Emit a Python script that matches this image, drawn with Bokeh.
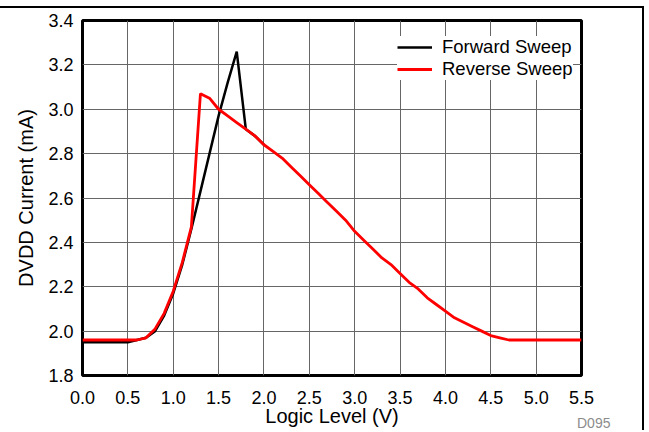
from bokeh.plotting import figure
from bokeh.models import Legend, LegendItem, FixedTicker, NumeralTickFormatter, Div
from bokeh.layouts import column
from bokeh.embed import file_html
from bokeh.resources import INLINE

# Data
fwd_x = [0.0, 0.5, 0.6, 0.7, 0.8, 0.9, 1.0, 1.1, 1.2, 1.3, 1.4, 1.5, 1.6, 1.7, 1.8, 1.9, 2.0]
fwd_y = [1.95, 1.95, 1.96, 1.97, 2.00, 2.07, 2.17, 2.30, 2.46, 2.63, 2.80, 2.97, 3.12, 3.26, 2.91, 2.88, 2.84]

rev_x = [0.0, 0.5, 0.6, 0.7, 0.8, 0.9, 1.0, 1.1, 1.2, 1.3, 1.4, 1.5, 1.6, 1.7, 1.8, 1.9,
         2.0, 2.1, 2.2, 2.3, 2.4, 2.5, 2.6, 2.7, 2.8, 2.9, 3.0, 3.1, 3.2, 3.3, 3.4, 3.5,
         3.6, 3.7, 3.8, 3.9, 4.0, 4.1, 4.2, 4.3, 4.4, 4.5, 4.6, 4.7, 5.5]
rev_y = [1.96, 1.96, 1.96, 1.97, 2.01, 2.08, 2.18, 2.31, 2.47, 3.07, 3.05, 3.00, 2.97, 2.94, 2.91, 2.88,
         2.84, 2.81, 2.78, 2.74, 2.70, 2.66, 2.62, 2.58, 2.54, 2.50, 2.45, 2.41, 2.37, 2.33, 2.30, 2.26,
         2.22, 2.19, 2.15, 2.12, 2.09, 2.06, 2.04, 2.02, 2.00, 1.98, 1.97, 1.96, 1.96]

x_ticks = [0.0, 0.5, 1.0, 1.5, 2.0, 2.5, 3.0, 3.5, 4.0, 4.5, 5.0, 5.5]
y_ticks = [1.8, 2.0, 2.2, 2.4, 2.6, 2.8, 3.0, 3.2, 3.4]
figure_id = "D095"

FONT = "Liberation Sans"

p = figure(width=644, height=424, x_range=(0, 5.5), y_range=(1.8, 3.4),
           output_backend="svg", toolbar_location=None,
           min_border_left=82, min_border_right=63, min_border_top=12, min_border_bottom=57)
p.styles = {"margin-top": "6px", "border-top": "2px solid black", "border-right": "2px solid black"}

p.outline_line_color = "black"
p.outline_line_width = 3

p.xaxis.ticker = FixedTicker(ticks=x_ticks)
p.yaxis.ticker = FixedTicker(ticks=y_ticks)
p.xaxis.formatter = NumeralTickFormatter(format="0.0")
p.yaxis.formatter = NumeralTickFormatter(format="0.0")
for ax in (p.xaxis, p.yaxis):
    ax.axis_line_color = None
    ax.major_tick_line_color = None
    ax.minor_tick_line_color = None
    ax.major_label_text_font = FONT
    ax.major_label_text_font_size = "18px"
    ax.major_label_text_color = "black"
    ax.axis_label_text_font = FONT
    ax.axis_label_text_font_size = "20px"
    ax.axis_label_text_font_style = "normal"
    ax.axis_label_text_color = "black"
p.xaxis.major_label_standoff = 9
p.yaxis.major_label_standoff = 3
p.xaxis.axis_label = "Logic Level (V)"
p.yaxis.axis_label = "DVDD Current (mA)"
p.xaxis.axis_label_standoff = -2
p.yaxis.axis_label_standoff = 8

p.xgrid.grid_line_color = "#666666"
p.ygrid.grid_line_color = "#666666"
p.xgrid.grid_line_width = 1
p.ygrid.grid_line_width = 1

r_f = p.line(fwd_x, fwd_y, line_color="black", line_width=2.5)
r_r = p.line(rev_x, rev_y, line_color="#ff0000", line_width=2.8)

legend = Legend(items=[LegendItem(label="Forward Sweep", renderers=[r_f]),
                       LegendItem(label="Reverse Sweep", renderers=[r_r])],
                location=(315, 295))
legend.border_line_color = None
legend.background_fill_color = "white"
legend.background_fill_alpha = 1.0
legend.label_text_font = FONT
legend.label_text_font_size = "18.5px"
legend.label_text_color = "black"
legend.label_text_line_height = 1.0
legend.glyph_width = 35
legend.glyph_height = 18
legend.label_height = 18
legend.spacing = -1
legend.padding = 9
legend.margin = 0
legend.label_standoff = 10
p.add_layout(legend)

note = Div(text=figure_id, width=40, height=16,
           styles={"margin-top": "-15px", "margin-left": "577px", "color": "#8c8c8c",
                   "font-family": FONT, "font-size": "14px", "line-height": "16px"})

layout = column(p, note, spacing=0)
open("out.html", "w").write(file_html(layout, INLINE))
